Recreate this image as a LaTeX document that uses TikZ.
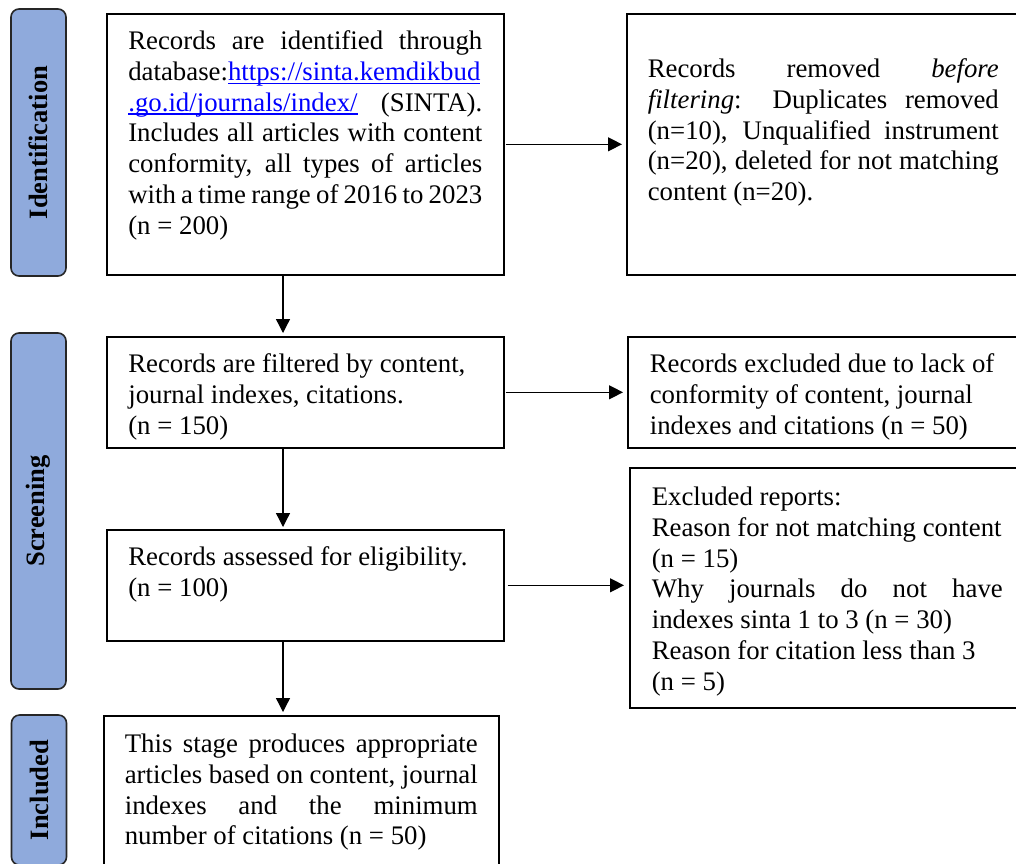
\documentclass[tikz,border=0pt]{standalone}
\usepackage{fontspec}
\setmainfont{Liberation Serif}
\usetikzlibrary{arrows.meta}
\definecolor{phaseblue}{RGB}{143,170,220}
\definecolor{linkblue}{RGB}{0,0,255}
\newcommand{\jline}[1]{\makebox[\linewidth][s]{#1}}
\newcommand{\lline}[1]{\makebox[\linewidth][l]{#1}}
\newcommand{\boxtext}[4]{\parbox[c][#1pt][t]{#2pt}{\rule{0pt}{#3pt}#4}}
\newcommand{\weblink}[1]{\textcolor{linkblue}{\setbox0\hbox{#1}\rlap{\rule[-3.4pt]{\wd0}{1.2pt}}\box0}}

\begin{document}
\begin{tikzpicture}[x=1pt, y=-1pt, >={Triangle[length=14pt, width=14pt]}, font=\fontsize{26.8}{30.7}\selectfont]
        \tikzstyle{frame}=[rectangle, draw, line width=1.6pt, anchor=north west, inner ysep=0pt, inner xsep=21.5pt]
        \tikzstyle{phase}=[rectangle, draw=black!85, line width=1.6pt, rounded corners=8pt, fill=phaseblue, rotate=90, minimum height=55pt, inner sep=0pt, font=\fontsize{26.5}{30}\selectfont\bfseries]
        \tikzstyle{flow}=[->, line width=1.3pt]
        \useasboundingbox (0,0) rectangle (1016,863);

        % phase labels
        \node[phase, minimum width=267pt] (idphase) at (38.5,142.5) {Identification};
        \node[phase, minimum width=356pt] (scphase) at (38.5,511) {Screening};
        \node[phase, minimum width=150pt] (inphase) at (39,790) {Included};

        % left column
        \node[frame] (ident) at (106,13) {\boxtext{261}{354}{36}{\jline{Records are identified through}\\
            \lline{database:\weblink{https://sinta.kemdikbud}}\\
            \jline{\weblink{.go.id/journals/index/} (SINTA).}\\
            \jline{Includes all articles with content}\\
            \jline{conformity, all types of articles}\\
            \jline{with a time range of 2016 to 2023}\\
            \lline{(n = 200)}}};
        \node[frame] (filter) at (106,336) {\boxtext{111}{354}{36}{\lline{Records are filtered by content,}\\
            \lline{journal indexes, citations.}\\
            \lline{(n = 150)}}};
        \node[frame] (assess) at (106,529) {\boxtext{111}{354}{36}{\lline{Records assessed for eligibility.}\\
            \lline{(n = 100)}}};
        \node[frame, inner xsep=21pt] (incl) at (103,715) {\boxtext{160}{353}{37}{\jline{This stage produces appropriate}\\
            \jline{articles based on content, journal}\\
            \jline{indexes and the minimum}\\
            \lline{number of citations (n = 50)}}};

        % right column
        \node[frame, inner xsep=21pt] (removed) at (626,13) {\boxtext{261}{351}{64}{\jline{Records removed \textit{before}}\\
            \jline{\textit{filtering}: Duplicates removed}\\
            \jline{(n=10), Unqualified instrument}\\
            \jline{(n=20), deleted for not matching}\\
            \lline{content (n=20).}}};
        \node[frame, inner xsep=22pt] (excl) at (627,336) {\boxtext{111}{351}{36}{\lline{Records excluded due to lack of}\\
            \lline{conformity of content, journal}\\
            \lline{indexes and citations (n = 50)}}};
        \node[frame, inner xsep=22pt] (reports) at (629,467) {\boxtext{240}{351}{38}{\lline{Excluded reports:}\\
            \lline{Reason for not matching content}\\
            \lline{(n = 15)}\\
            \jline{Why journals do not have}\\
            \lline{indexes sinta 1 to 3 (n = 30)}\\
            \lline{Reason for citation less than 3}\\
            \lline{(n = 5)}}};

        % connectors
        \coordinate (spine) at (283,0);
        \draw[flow, shorten <=1pt, shorten >=4pt] (ident.east) -- (removed.west |- ident.east);
        \draw[flow, shorten <=1pt, shorten >=4pt] (filter.east) -- (excl.west |- filter.east);
        \draw[flow, shorten <=3pt, shorten >=5pt] (assess.east) -- (reports.west |- assess.east);
        \draw[flow, shorten >=3pt] (ident.south -| spine) -- (filter.north -| spine);
        \draw[flow, shorten >=2pt] (filter.south -| spine) -- (assess.north -| spine);
        \draw[flow, shorten >=3pt] (assess.south -| spine) -- (incl.north -| spine);
    \end{tikzpicture}
\end{document}
